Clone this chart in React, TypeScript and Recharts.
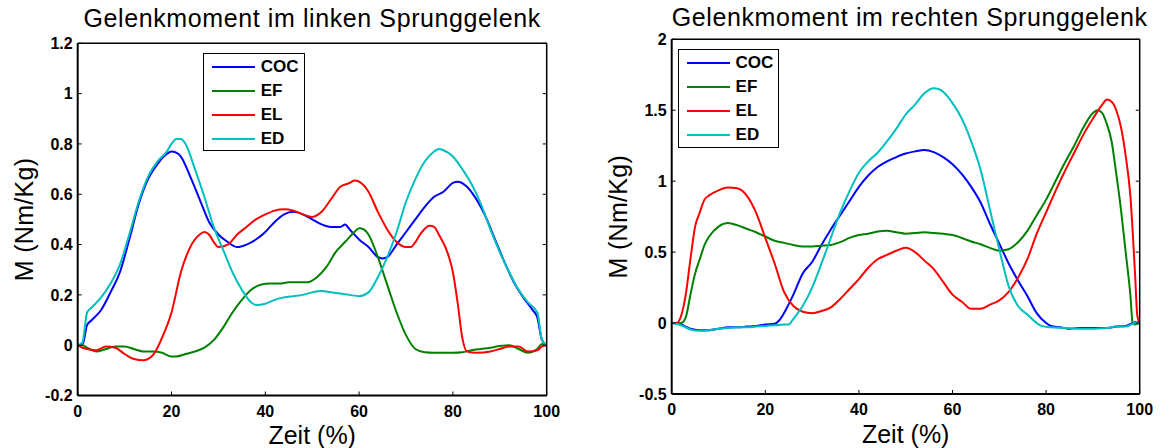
import { Legend, Line, LineChart, XAxis, YAxis } from 'recharts';

type Pt = [number, number];

const FONT = 'Arial, "Liberation Sans", Helvetica, sans-serif';

const SERIES_NAMES = ['COC', 'EF', 'EL', 'ED'];
const SERIES_COLORS = ['#0000ff', '#008000', '#ff0000', '#00bfbf'];

const X_TICKS = [0, 20, 40, 60, 80, 100];
const LEFT_Y_TICKS = [-0.2, 0, 0.2, 0.4, 0.6, 0.8, 1, 1.2];
const RIGHT_Y_TICKS = [-0.5, 0, 0.5, 1, 1.5, 2];

const LEFT_TITLE = 'Gelenkmoment im linken Sprunggelenk';
const RIGHT_TITLE = 'Gelenkmoment im rechten Sprunggelenk';
const X_LABEL = 'Zeit (%)';
const Y_LABEL = 'M (Nm/Kg)';

// linkes Sprunggelenk: [Zeit %, Moment Nm/Kg]
const L_COC: Pt[] = [
  [0, 0], [1, 0], [2, 0.08], [3, 0.1], [5, 0.14], [7, 0.21], [9, 0.29], [11, 0.42],
  [13, 0.56], [15, 0.66], [17, 0.72], [19, 0.76], [20, 0.77], [21, 0.765], [22, 0.75],
  [24, 0.67], [26, 0.58], [28, 0.49], [30, 0.44], [32, 0.41], [34, 0.39], [36, 0.4],
  [38, 0.42], [40, 0.45], [42, 0.49], [44, 0.52], [46, 0.53], [48, 0.52], [50, 0.5],
  [52, 0.48], [54, 0.47], [56, 0.47], [57, 0.48], [58, 0.46], [60, 0.42], [62, 0.39],
  [64, 0.35], [65, 0.345], [66, 0.35], [68, 0.4], [70, 0.45], [72, 0.5], [74, 0.55],
  [76, 0.59], [78, 0.61], [80, 0.645], [81, 0.65], [83, 0.63], [85, 0.58], [87, 0.51],
  [89, 0.42], [91, 0.33], [93, 0.25], [95, 0.19], [97, 0.14], [98, 0.11], [99, 0.02], [100, 0],
];
const L_EF: Pt[] = [
  [0, 0], [1, 0], [2, -0.01], [4, -0.025], [6, -0.015], [8, -0.005], [10, -0.005],
  [12, -0.015], [14, -0.025], [16, -0.025], [18, -0.03], [20, -0.045], [21, -0.045],
  [23, -0.035], [25, -0.025], [27, -0.01], [29, 0.02], [31, 0.07], [33, 0.13], [35, 0.18],
  [37, 0.22], [39, 0.24], [41, 0.245], [43, 0.245], [45, 0.25], [47, 0.25], [49, 0.25],
  [51, 0.27], [53, 0.31], [55, 0.37], [57, 0.41], [59, 0.45], [60, 0.465], [61, 0.46],
  [62, 0.44], [64, 0.35], [66, 0.24], [68, 0.13], [70, 0.04], [72, -0.015], [74, -0.028],
  [76, -0.03], [78, -0.03], [80, -0.03], [82, -0.028], [84, -0.02], [86, -0.015],
  [88, -0.01], [90, -0.003], [92, 0], [94, -0.015], [96, -0.03], [98, -0.015], [99, 0.005], [100, 0],
];
const L_EL: Pt[] = [
  [0, 0], [1, -0.01], [2, -0.015], [4, -0.02], [6, -0.005], [8, -0.01], [10, -0.035],
  [12, -0.055], [14, -0.06], [16, -0.04], [17, -0.01], [18, 0.03], [20, 0.13], [22, 0.29],
  [24, 0.39], [26, 0.44], [27, 0.45], [28, 0.44], [29, 0.41], [30, 0.39], [32, 0.4],
  [34, 0.44], [36, 0.47], [38, 0.5], [40, 0.52], [42, 0.535], [44, 0.54], [46, 0.535],
  [48, 0.52], [50, 0.51], [52, 0.53], [54, 0.58], [56, 0.63], [58, 0.645], [59, 0.655],
  [60, 0.65], [62, 0.61], [64, 0.53], [66, 0.46], [68, 0.41], [70, 0.39], [71, 0.39],
  [72, 0.41], [73, 0.44], [75, 0.475], [76, 0.47], [77, 0.44], [79, 0.36], [80, 0.29],
  [81, 0.17], [82, 0.03], [83, -0.025], [85, -0.03], [88, -0.025], [90, -0.015],
  [92, -0.005], [94, -0.005], [96, -0.025], [98, -0.02], [99, -0.005], [100, 0],
];
const L_ED: Pt[] = [
  [0, 0], [1, 0.01], [2, 0.13], [3, 0.15], [5, 0.19], [7, 0.245], [9, 0.32], [11, 0.44],
  [13, 0.57], [15, 0.67], [17, 0.73], [19, 0.77], [20, 0.8], [21, 0.82], [22, 0.82],
  [23, 0.8], [25, 0.7], [27, 0.59], [29, 0.47], [31, 0.38], [33, 0.29], [35, 0.22],
  [37, 0.17], [38, 0.16], [40, 0.165], [42, 0.18], [44, 0.19], [46, 0.195], [48, 0.2],
  [50, 0.21], [52, 0.215], [54, 0.21], [56, 0.205], [58, 0.2], [60, 0.195], [62, 0.21],
  [64, 0.27], [66, 0.35], [68, 0.45], [70, 0.57], [72, 0.66], [74, 0.73], [76, 0.77],
  [77, 0.78], [78, 0.775], [80, 0.75], [82, 0.7], [84, 0.64], [86, 0.56], [88, 0.46],
  [90, 0.37], [92, 0.29], [94, 0.22], [96, 0.17], [98, 0.13], [99, 0.02], [100, 0],
];

// rechtes Sprunggelenk
const R_COC: Pt[] = [
  [0, 0], [2, -0.01], [4, -0.04], [6, -0.05], [8, -0.05], [10, -0.04], [12, -0.03],
  [14, -0.03], [16, -0.025], [18, -0.02], [20, -0.01], [22, -0.005], [23, 0.02], [24, 0.07],
  [26, 0.2], [28, 0.35], [30, 0.43], [32, 0.55], [34, 0.66], [36, 0.76], [38, 0.86],
  [40, 0.96], [42, 1.04], [44, 1.1], [46, 1.14], [48, 1.17], [50, 1.195], [52, 1.21],
  [54, 1.22], [56, 1.205], [58, 1.17], [60, 1.12], [62, 1.05], [64, 0.96], [66, 0.85],
  [68, 0.7], [70, 0.56], [72, 0.42], [74, 0.3], [76, 0.19], [78, 0.07], [80, 0], [81, -0.02],
  [83, -0.03], [85, -0.04], [87, -0.035], [90, -0.035], [93, -0.035], [95, -0.025],
  [97, -0.02], [99, 0.005], [100, 0],
];
const R_EF: Pt[] = [
  [0, 0], [2, 0], [3, 0.04], [4, 0.2], [5, 0.35], [6, 0.45], [7, 0.55], [8, 0.61],
  [10, 0.68], [12, 0.705], [14, 0.69], [16, 0.665], [18, 0.64], [20, 0.61], [22, 0.58],
  [24, 0.565], [26, 0.55], [28, 0.54], [30, 0.54], [32, 0.545], [34, 0.55], [36, 0.57],
  [38, 0.6], [40, 0.62], [42, 0.63], [44, 0.645], [46, 0.65], [48, 0.64], [50, 0.63],
  [52, 0.635], [54, 0.64], [56, 0.635], [58, 0.63], [60, 0.62], [62, 0.6], [64, 0.575],
  [66, 0.555], [68, 0.53], [70, 0.51], [72, 0.52], [74, 0.57], [76, 0.65], [78, 0.76],
  [80, 0.87], [82, 1.0], [84, 1.13], [86, 1.25], [88, 1.38], [90, 1.48], [91, 1.5],
  [92, 1.48], [93, 1.4], [94, 1.28], [95, 1.05], [96, 0.8], [97, 0.5], [98, 0.2],
  [98.5, 0], [99, -0.01], [100, 0],
];
const R_EL: Pt[] = [
  [0, 0], [1, 0], [2, 0.05], [3, 0.2], [4, 0.45], [5, 0.68], [6, 0.78], [7, 0.87], [8, 0.9],
  [10, 0.935], [12, 0.955], [14, 0.95], [16, 0.9], [18, 0.78], [20, 0.6], [22, 0.42],
  [24, 0.22], [26, 0.12], [28, 0.08], [30, 0.07], [32, 0.085], [34, 0.11], [36, 0.17],
  [38, 0.24], [40, 0.31], [42, 0.39], [44, 0.45], [46, 0.48], [48, 0.51], [50, 0.53],
  [52, 0.5], [54, 0.44], [56, 0.38], [58, 0.29], [60, 0.2], [62, 0.15], [64, 0.1],
  [66, 0.1], [68, 0.13], [70, 0.16], [72, 0.22], [74, 0.32], [76, 0.45], [78, 0.63],
  [80, 0.78], [82, 0.93], [84, 1.07], [86, 1.2], [88, 1.33], [90, 1.44], [92, 1.54],
  [93, 1.575], [94, 1.56], [95, 1.5], [96, 1.38], [97, 1.18], [98, 0.9], [99, 0.35],
  [99.5, 0.05], [100, 0],
];
const R_ED: Pt[] = [
  [0, 0], [2, -0.015], [4, -0.045], [6, -0.055], [8, -0.05], [10, -0.04], [12, -0.035],
  [14, -0.03], [16, -0.03], [18, -0.025], [20, -0.02], [22, -0.015], [24, -0.01],
  [25, -0.01], [26, 0.03], [28, 0.12], [30, 0.25], [32, 0.42], [34, 0.6], [36, 0.78],
  [38, 0.93], [40, 1.06], [42, 1.14], [44, 1.2], [46, 1.28], [48, 1.37], [50, 1.47],
  [52, 1.54], [54, 1.62], [56, 1.655], [57, 1.65], [58, 1.63], [60, 1.55], [62, 1.44],
  [64, 1.28], [66, 1.08], [68, 0.8], [70, 0.52], [72, 0.26], [74, 0.12], [76, 0.06],
  [78, 0], [79, -0.02], [81, -0.03], [84, -0.035], [87, -0.04], [90, -0.04], [93, -0.035],
  [95, -0.025], [97, -0.025], [99, 0], [100, 0],
];

const toRows = (pts: Pt[]) => pts.map(([t, m]) => ({ t, m }));

interface Box {
  left: number;
  top: number;
  width: number;
  height: number;
}

interface PanelProps {
  x: number;
  title: string;
  titleTop: number;
  series: Pt[][];
  yTicks: number[];
  margin: { top: number; right: number; bottom: number; left: number };
  legend: Box;
}

const W = 584;
const H = 448;
// axes need a non-zero thickness to render; margins are reduced by this
const AX = 1;

const tickStyle = { fontSize: 16, fontWeight: 700, fill: '#000', fontFamily: FONT };

function YTitle({ viewBox }: any) {
  const cx = viewBox.x + viewBox.width - 54;
  const cy = viewBox.y + viewBox.height / 2;
  return (
    <text
      x={cx}
      y={cy}
      transform={`rotate(-90 ${cx} ${cy})`}
      textAnchor="middle"
      dominantBaseline="central"
      fontSize={25}
      fontFamily={FONT}
      letterSpacing={0.3}
      fill="#000"
    >
      {Y_LABEL}
    </text>
  );
}

function LegendBox({ payload }: any) {
  const items = [...(payload ?? [])].sort(
    (a: any, b: any) => SERIES_NAMES.indexOf(a.value) - SERIES_NAMES.indexOf(b.value),
  );
  return (
    <div
      style={{
        boxSizing: 'border-box',
        width: '100%',
        height: '100%',
        border: '1.5px solid #000',
        background: '#fff',
        paddingTop: 1,
        fontFamily: FONT,
      }}
    >
      {items.map((p: any) => (
        <div key={p.value} style={{ display: 'flex', alignItems: 'center', height: 23.8 }}>
          <svg width={52} height={6} style={{ flex: 'none' }}>
            <line x1={8} x2={51} y1={3} y2={3} stroke={p.color} strokeWidth={2} />
          </svg>
          <span style={{ marginLeft: 5, fontSize: 17, fontWeight: 700, color: '#000' }}>{p.value}</span>
        </div>
      ))}
    </div>
  );
}

function Panel({ x, title, titleTop, series, yTicks, margin, legend }: PanelProps) {
  const yDomain = [yTicks[0], yTicks[yTicks.length - 1]];
  const plotW = W - margin.left - margin.right;
  const m = {
    top: margin.top - AX,
    right: margin.right - AX,
    bottom: margin.bottom - AX,
    left: margin.left - AX,
  };
  return (
    <div style={{ position: 'absolute', left: x, top: 0, width: W, height: H }}>
      <div
        style={{
          position: 'absolute',
          left: margin.left,
          top: titleTop,
          width: plotW,
          textAlign: 'center',
          fontFamily: FONT,
          fontSize: 25,
          lineHeight: '25px',
          letterSpacing: 0.6,
          whiteSpace: 'nowrap',
          color: '#000',
        }}
      >
        {title}
      </div>
      <LineChart width={W} height={H} margin={m}>
        <XAxis
          type="number"
          dataKey="t"
          domain={[0, 100]}
          ticks={X_TICKS}
          interval={0}
          allowDataOverflow
          height={AX}
          tickSize={-4}
          tickMargin={14}
          tick={tickStyle}
          axisLine={{ stroke: '#000', strokeWidth: 2 }}
          tickLine={{ stroke: '#000' }}
          label={{ value: X_LABEL, position: 'bottom', offset: 30, fontSize: 25, fill: '#000', fontFamily: FONT }}
        />
        <XAxis
          xAxisId="top"
          orientation="top"
          type="number"
          domain={[0, 100]}
          ticks={X_TICKS}
          interval={0}
          allowDataOverflow
          height={AX}
          tickSize={-4}
          tickFormatter={() => ''}
          axisLine={{ stroke: '#000', strokeWidth: 1.5 }}
          tickLine={{ stroke: '#000' }}
        />
        <YAxis
          type="number"
          domain={yDomain}
          ticks={yTicks}
          interval={0}
          allowDataOverflow
          width={AX}
          tickSize={-4}
          tickMargin={9}
          tick={tickStyle}
          axisLine={{ stroke: '#000', strokeWidth: 2 }}
          tickLine={{ stroke: '#000' }}
          label={{ content: (p: any) => <YTitle {...p} /> }}
        />
        <YAxis
          yAxisId="right"
          orientation="right"
          type="number"
          domain={yDomain}
          ticks={yTicks}
          interval={0}
          allowDataOverflow
          width={AX}
          tickSize={-4}
          tickFormatter={() => ''}
          axisLine={{ stroke: '#000', strokeWidth: 1.5 }}
          tickLine={{ stroke: '#000' }}
        />
        {series.map((pts, i) => (
          <Line
            key={SERIES_NAMES[i]}
            name={SERIES_NAMES[i]}
            data={toRows(pts)}
            dataKey="m"
            type="monotone"
            stroke={SERIES_COLORS[i]}
            strokeWidth={2}
            dot={false}
            activeDot={false}
            isAnimationActive={false}
          />
        ))}
        <Legend
          layout="vertical"
          align="center"
          verticalAlign="middle"
          wrapperStyle={{ left: legend.left, top: legend.top, width: legend.width, height: legend.height }}
          content={(p: any) => <LegendBox {...p} />}
        />
      </LineChart>
    </div>
  );
}

export default function App() {
  return (
    <div style={{ position: 'absolute', left: 0, top: 0, width: 1168, height: 448, background: '#fff' }}>
      <Panel
        x={0}
        title={LEFT_TITLE}
        titleTop={6}
        series={[L_COC, L_EF, L_EL, L_ED]}
        yTicks={LEFT_Y_TICKS}
        margin={{ top: 43.3, right: 37.3, bottom: 52.5, left: 77.7 }}
        legend={{ left: 202.7, top: 53.3, width: 102.6, height: 97.4 }}
      />
      <Panel
        x={584}
        title={RIGHT_TITLE}
        titleTop={5}
        series={[R_COC, R_EF, R_EL, R_ED]}
        yTicks={RIGHT_Y_TICKS}
        margin={{ top: 39.3, right: 28.3, bottom: 54, left: 87.7 }}
        legend={{ left: 93.6, top: 49.3, width: 101.7, height: 98.4 }}
      />
    </div>
  );
}
